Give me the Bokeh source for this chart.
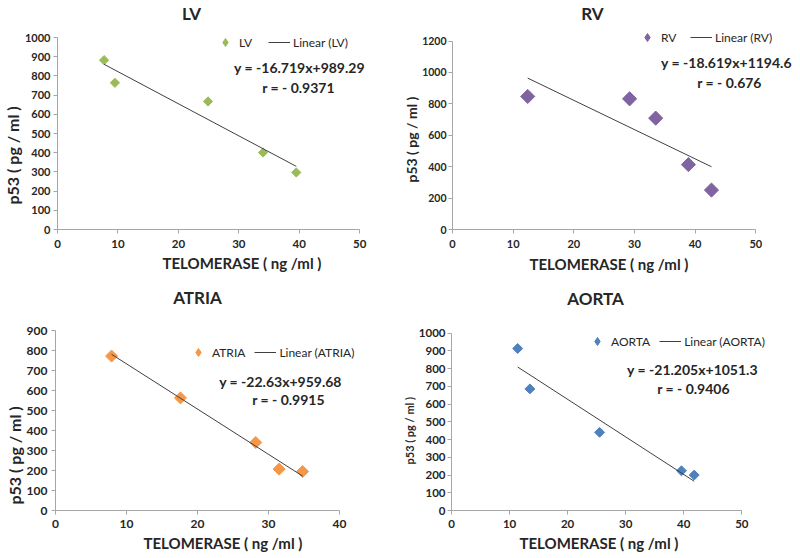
import numpy as np
from bokeh.plotting import figure
from bokeh.layouts import column, row
from bokeh.models import Range1d, FixedTicker, Label, Legend, LegendItem, Title
from bokeh.embed import file_html
from bokeh.resources import INLINE

FONT = "Lato"
TXT = "#262626"

# ---------------- data ----------------
lv_x = [7.7, 9.5, 24.9, 34.0, 39.5]
lv_y = [882, 764, 667, 401, 297]
rv_x = [12.4, 29.2, 33.5, 38.9, 42.7]
rv_y = [847, 832, 709, 413, 251]
atria_x = [7.9, 17.6, 28.2, 31.5, 34.8]
atria_y = [772, 563, 340, 207, 195]
aorta_x = [11.4, 13.5, 25.5, 39.6, 41.8]
aorta_y = [914, 686, 441, 224, 200]

# fitted trend line coefficients shown on the chart
lv_fit = (-16.719, 989.29)
rv_fit = (-18.619, 1194.6)
atria_fit = (-22.63, 959.68)
aorta_fit = (-21.205, 1051.3)

lv_eq = ["y = -16.719x+989.29", "r = - 0.9371"]
rv_eq = ["y = -18.619x+1194.6", "r = - 0.676"]
atria_eq = ["y = -22.63x+959.68", "r = - 0.9915"]
aorta_eq = ["y = -21.205x+1051.3", "r = - 0.9406"]

x_ticks_50 = [0, 10, 20, 30, 40, 50]
x_ticks_40 = [0, 10, 20, 30, 40]
y_ticks_1000 = [0, 100, 200, 300, 400, 500, 600, 700, 800, 900, 1000]
y_ticks_1200 = [0, 200, 400, 600, 800, 1000, 1200]
y_ticks_900 = [0, 100, 200, 300, 400, 500, 600, 700, 800, 900]

X_LABEL = "TELOMERASE ( ng /ml )"
Y_LABEL = "p53 ( pg / ml )"


def style_axis(ax, fs, standoff):
    ax.axis_line_color = "#A6A6A6"
    ax.major_tick_line_color = "#A6A6A6"
    ax.major_tick_out = 4
    ax.major_tick_in = 0
    ax.minor_tick_line_color = None
    ax.major_label_text_font = FONT
    ax.major_label_text_font_style = "bold"
    ax.major_label_text_font_size = fs
    ax.major_label_text_color = TXT
    ax.major_label_standoff = standoff


def panel(name, xs, ys, fit, eq, color, msize, xmax, xticks, ymax, yticks,
          width, height, left, bottom, axis_w, axis_h,
          xtick_fs, xtick_so, ytick_fs, ytick_so,
          ylab_fs, ylab_off, xlab_off, xlab_standoff,
          title_pos, legend_pos, eq_pos, r_pos, eq_fs="14px"):
    frame_w = width - left
    frame_h = height - bottom
    p = figure(width=width, height=height, output_backend="svg",
               toolbar_location=None,
               x_range=Range1d(0, xmax * frame_w / axis_w),
               y_range=Range1d(0, ymax * frame_h / axis_h),
               min_border_left=left, min_border_right=0,
               min_border_top=0, min_border_bottom=bottom)
    p.outline_line_color = None
    p.xgrid.visible = False
    p.ygrid.visible = False
    p.xaxis.ticker = FixedTicker(ticks=xticks)
    p.yaxis.ticker = FixedTicker(ticks=yticks)
    p.xaxis.bounds = (0, xmax)
    p.yaxis.bounds = (0, ymax)
    style_axis(p.xaxis[0], xtick_fs, xtick_so)
    style_axis(p.yaxis[0], ytick_fs, ytick_so)

    # axis titles
    p.add_layout(Title(text=Y_LABEL, align="left", offset=ylab_off, standoff=0,
                       text_font=FONT, text_font_size=ylab_fs,
                       text_font_style="bold", text_color=TXT), "left")
    p.add_layout(Title(text=X_LABEL, align="left", offset=xlab_off,
                       standoff=xlab_standoff, text_font=FONT,
                       text_font_size="15px", text_font_style="bold",
                       text_color=TXT), "below")

    # legend key swatch (a diamond, hidden under the real markers)
    key = p.scatter(xs, ys, marker="diamond", size=0.5, fill_color=color,
                    line_color=color)
    p.scatter(xs, ys, marker="square", size=msize, angle=np.pi / 4,
              fill_color=color, line_color=color)
    x0, x1 = min(xs), max(xs)
    m, c = fit
    ln = p.line([x0, x1], [m * x0 + c, m * x1 + c], line_color="#404040",
                line_width=1)

    leg = Legend(items=[LegendItem(label=name, renderers=[key]),
                        LegendItem(label="Linear (" + name + ")", renderers=[ln])],
                 orientation="horizontal", location=legend_pos,
                 border_line_color=None, background_fill_alpha=0,
                 padding=0, margin=0, spacing=9, glyph_width=22,
                 glyph_height=20, label_height=12, label_standoff=3,
                 label_text_font=FONT, label_text_font_size="12px",
                 label_text_color=TXT)
    p.add_layout(leg)

    def lab(text, pos, fs):
        p.add_layout(Label(x=pos[0], y=pos[1], x_units="screen", y_units="screen",
                           text=text, text_font=FONT, text_font_size=fs,
                           text_font_style="bold", text_color=TXT,
                           text_align="center", text_baseline="middle"))

    lab(name, title_pos, "17px")
    lab(eq[0], eq_pos, eq_fs)
    lab(eq[1], r_pos, eq_fs)
    return p


p_lv = panel("LV", lv_x, lv_y, lv_fit, lv_eq, "#9BBB59", 6.5, 50, x_ticks_50,
             1000, y_ticks_1000, 400, 279, 55, 50, 304, 192,
             "11.5px", 6, "11px", 3,
             "16px", 25, 105, 2,
             (134, 216), (157, 177), (242, 162), (241, 142))
p_rv = panel("RV", rv_x, rv_y, rv_fit, rv_eq, "#8064A2", 10, 50, x_ticks_50,
             1200, y_ticks_1200, 400, 279, 50, 50, 305, 188.5,
             "11px", 6, "10.5px", 2,
             "14px", 47, 77, 5,
             (140, 216), (184, 182), (274, 167), (277, 147))
p_atria = panel("ATRIA", atria_x, atria_y, atria_fit, atria_eq, "#F79646", 8.5,
                40, x_ticks_40, 900, y_ticks_900, 400, 279, 55, 48, 284, 180,
                "12px", 5, "12px", 4,
                "16px", 6, 88, 3,
                (142, 213), (132, 148), (225, 129), (233, 111))
p_aorta = panel("AORTA", aorta_x, aorta_y, aorta_fit, aorta_eq, "#4F81BD", 7,
                50, x_ticks_50, 1000, y_ticks_1000, 400, 279, 49, 47, 292, 178,
                "11.5px", 5, "11.5px", 2,
                "11px", 46, 68, 2,
                (144, 212), (135, 159), (241, 141), (242, 122))

layout = column(row(p_lv, p_rv), row(p_atria, p_aorta))
open("out.html", "w").write(file_html(layout, INLINE))
